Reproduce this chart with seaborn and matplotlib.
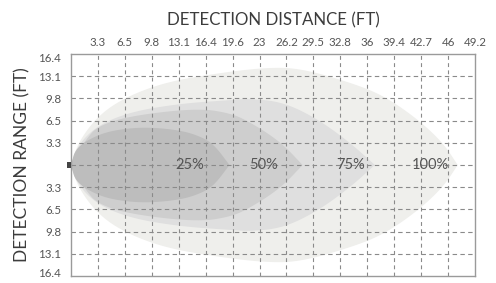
import numpy as np
import pandas as pd
import matplotlib
matplotlib.use("Agg")
import matplotlib.pyplot as plt
import seaborn as sns

# ---- data ----
x_ticks = [3.28 * i for i in range(1, 16)]
x_labels = ["3.3", "6.5", "9.8", "13.1", "16.4", "19.6", "23", "26.2",
            "29.5", "32.8", "36", "39.4", "42.7", "46", "49.2"]
y_grid = [3.28 * i for i in range(-4, 5)]
y_tick_pos = [-15.85, -13.12, -9.84, -6.56, -3.28, 3.28, 6.56, 9.84, 13.12, 15.85]
y_labels = ["16.4", "13.1", "9.8", "6.5", "3.3", "3.3", "6.5", "9.8", "13.1", "16.4"]

zone_names = ["100%", "75%", "50%", "25%"]
x100 = [0, 0.85, 3.3, 6.6, 11.4, 17.5, 23.6, 27.9, 34.0, 38.0, 42.1, 45.3, 47.1]
h100 = [0, 3.3, 7.3, 10.0, 12.2, 13.5, 14.4, 14.3, 12.2, 10.3, 6.9, 3.3, 0]
x75 = [0, 0.85, 3.3, 7.4, 13.5, 19.6, 21.8, 25.8, 29.9, 33.9, 37.0]
h75 = [0, 3.0, 5.9, 7.9, 9.1, 9.6, 9.8, 9.3, 6.9, 3.4, 0]
x50 = [0, 1.7, 3.3, 7.4, 15.5, 19.6, 21.8, 24.2, 26.1, 28.2]
h50 = [0, 3.6, 5.8, 7.3, 8.4, 7.6, 6.3, 4.5, 2.7, 0]
x25 = [0, 0.6, 3.3, 6.0, 9.4, 13.5, 16.0, 17.5, 19.3]
h25 = [0, 2.6, 4.5, 5.3, 5.6, 5.1, 4.1, 2.9, 0]
label_x = [43.8, 34.1, 23.5, 14.4]
zone_colors = ["#efefec", "#dfdfdf", "#cecece", "#bdbdbd"]

# ---- style ----
sns.set_theme(style="white")
plt.rcParams["font.family"] = ["Lato", "DejaVu Sans"]

fig = plt.figure(figsize=(4.96, 2.83), dpi=100)
ax = fig.add_axes([0.1431, 0.0247, 0.8145, 0.7845])


def chaikin(pts, n=4):
    pts = np.asarray(pts, dtype=float)
    for _ in range(n):
        q = np.roll(pts, -1, axis=0)
        a = 0.75 * pts + 0.25 * q
        b = 0.25 * pts + 0.75 * q
        out = np.empty((2 * len(pts), 2))
        out[0::2] = a
        out[1::2] = b
        pts = out
    return pts


zones = [(x100, h100), (x75, h75), (x50, h50), (x25, h25)]
for k, ((xs, hs), col) in enumerate(zip(zones, zone_colors)):
    xs = np.asarray(xs, float)
    hs = np.asarray(hs, float)
    upper = np.column_stack([xs, hs])
    lower = np.column_stack([xs[::-1][1:-1], -hs[::-1][1:-1]])
    origin = upper[:1]
    tip = upper[-1:]
    tip_rep = 2 if k == 0 else 1
    pts = np.vstack([origin, origin, upper, *([tip] * tip_rep), lower])
    poly = chaikin(pts, 4)
    ax.fill(poly[:, 0], poly[:, 1], color=col, lw=0, zorder=1)

# grid
for xv in x_ticks[:-1]:
    ax.axvline(xv, color="#8a8a8a", lw=0.8, ls=(0, (3.5, 3)), zorder=2)
for yv in y_grid:
    ax.axhline(yv, color="#8a8a8a", lw=0.8, ls=(0, (4, 3)), zorder=2)

# zone labels
for name, lx in zip(zone_names, label_x):
    ax.text(lx, 0, name, ha="center", va="center", fontsize=10.5,
            color="#555555", zorder=3)

# origin marker
df0 = pd.DataFrame({"x": [0.0], "y": [0.0]})
sns.scatterplot(data=df0, x="x", y="y", ax=ax,
                marker=[(-4, -3), (0, -3), (0, 3), (-4, 3)],
                s=33, color="#444444", linewidth=0, clip_on=False, zorder=5)

ax.set_xlim(0, 49.2)
ax.set_ylim(-16.4, 16.4)
ax.xaxis.tick_top()
ax.set_xticks(x_ticks)
ax.set_xticklabels(x_labels)
ax.set_yticks(y_tick_pos)
ax.set_yticklabels(y_labels)
ax.tick_params(axis="both", length=0, labelsize=8.3, labelcolor="#555555")
ax.tick_params(axis="x", pad=4)
ax.tick_params(axis="y", pad=7)
ax.set_xlabel("")
ax.set_ylabel("")
for s in ax.spines.values():
    s.set_color("#9a9a9a")
    s.set_linewidth(1.0)
    s.set_visible(True)

fig.text(273 / 496, 1 - 20 / 283, "DETECTION DISTANCE (FT)", ha="center",
         va="center", fontsize=12.2, color="#3c3c3c")
fig.text(22 / 496, 1 - 165 / 283, "DETECTION RANGE (FT)", ha="center",
         va="center", rotation=90, fontsize=12.5, color="#3c3c3c")

fig.savefig("out.png", dpi=100)
